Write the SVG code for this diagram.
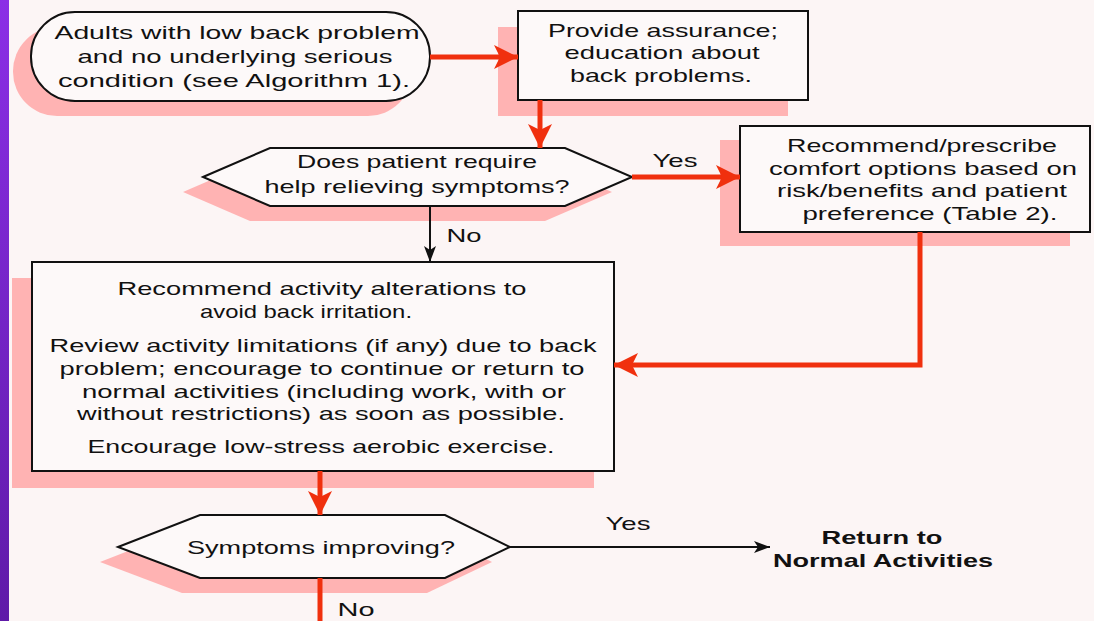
<svg xmlns="http://www.w3.org/2000/svg" width="1094" height="621" viewBox="0 0 1094 621">
<defs>
<linearGradient id="bar" x1="0" y1="0" x2="0" y2="1">
<stop offset="0" stop-color="#8b2fe6"/>
<stop offset="1" stop-color="#5f1aa8"/>
</linearGradient>
<marker id="rh" markerUnits="userSpaceOnUse" markerWidth="30" markerHeight="30" viewBox="0 0 30 30" refX="24" refY="15" orient="auto">
<path d="M0,3 L24,15 L0,27 L6,15 Z" fill="#f0300e"/>
</marker>
<marker id="bh" markerUnits="userSpaceOnUse" markerWidth="20" markerHeight="20" viewBox="0 0 20 20" refX="16" refY="10" orient="auto">
<path d="M0,4 L16,10 L0,16 L4,10 Z" fill="#111"/>
</marker>
</defs>
<style>
.t{font-family:"Liberation Sans",Arial,sans-serif;font-size:19px;fill:#111;text-anchor:middle}
.b{font-weight:bold}
.sh{fill:#ffb3b3}
.nd{fill:#fdf9f9;stroke:#111;stroke-width:2}
.red{stroke:#f0300e;stroke-width:5;fill:none}
.blk{stroke:#111;stroke-width:2;fill:none}
</style>
<rect width="1094" height="621" fill="#fcf5f5"/>
<rect x="0" y="0" width="9" height="621" fill="url(#bar)"/>

<g id="n1">
<rect class="sh" x="13" y="27" width="399" height="89" rx="44"/>
<rect class="nd" x="31" y="12" width="399" height="89" rx="44"/>
<text class="t" x="237" y="39" textLength="365" lengthAdjust="spacingAndGlyphs">Adults with low back problem</text>
<text class="t" x="235" y="63" textLength="315" lengthAdjust="spacingAndGlyphs">and no underlying serious</text>
<text class="t" x="234" y="87" textLength="352" lengthAdjust="spacingAndGlyphs">condition (see Algorithm 1).</text>
</g>

<g id="n2">
<rect class="sh" x="498" y="27" width="290" height="89"/>
<rect class="nd" x="518" y="11" width="290" height="89"/>
<text class="t" x="663" y="37" textLength="230" lengthAdjust="spacingAndGlyphs">Provide assurance;</text>
<text class="t" x="662" y="59" textLength="195" lengthAdjust="spacingAndGlyphs">education about</text>
<text class="t" x="661" y="82" textLength="182" lengthAdjust="spacingAndGlyphs">back problems.</text>
</g>

<g id="n3">
<polygon class="sh" points="183,192 250,163 545,163 612,192 545,221 250,221"/>
<polygon class="nd" points="203,177 270,148 565,148 632,177 565,206 270,206"/>
<text class="t" x="417" y="168" textLength="240" lengthAdjust="spacingAndGlyphs">Does patient require</text>
<text class="t" x="417" y="193" textLength="305" lengthAdjust="spacingAndGlyphs">help relieving symptoms?</text>
</g>

<g id="n4">
<rect class="sh" x="720" y="140" width="350" height="106"/>
<rect class="nd" x="740" y="126" width="350" height="106"/>
<text class="t" x="922" y="152" textLength="270" lengthAdjust="spacingAndGlyphs">Recommend/prescribe</text>
<text class="t" x="923" y="175" textLength="308" lengthAdjust="spacingAndGlyphs">comfort options based on</text>
<text class="t" x="922" y="197" textLength="290" lengthAdjust="spacingAndGlyphs">risk/benefits and patient</text>
<text class="t" x="930" y="220" textLength="255" lengthAdjust="spacingAndGlyphs">preference (Table 2).</text>
</g>

<g id="n5">
<rect class="sh" x="12" y="278" width="582" height="210"/>
<rect class="nd" x="32" y="262" width="582" height="209"/>
<text class="t" x="322" y="295" textLength="409" lengthAdjust="spacingAndGlyphs">Recommend activity alterations to</text>
<text class="t" x="306" y="318" textLength="212" lengthAdjust="spacingAndGlyphs">avoid back irritation.</text>
<text class="t" x="323" y="352" textLength="547" lengthAdjust="spacingAndGlyphs">Review activity limitations (if any) due to back</text>
<text class="t" x="322" y="375" textLength="525" lengthAdjust="spacingAndGlyphs">problem; encourage to continue or return to</text>
<text class="t" x="324" y="398" textLength="484" lengthAdjust="spacingAndGlyphs">normal activities (including work, with or</text>
<text class="t" x="321" y="420" textLength="488" lengthAdjust="spacingAndGlyphs">without restrictions) as soon as possible.</text>
<text class="t" x="321" y="453" textLength="467" lengthAdjust="spacingAndGlyphs">Encourage low-stress aerobic exercise.</text>
</g>

<g id="n6">
<polygon class="sh" points="100,562 182,530 427,530 492,562 427,593 182,593"/>
<polygon class="nd" points="118,547 200,515 445,515 510,547 445,578 200,578"/>
<text class="t" x="321" y="554" textLength="268" lengthAdjust="spacingAndGlyphs">Symptoms improving?</text>
</g>

<g id="n7">
<text class="t b" x="882" y="544" textLength="121" lengthAdjust="spacingAndGlyphs">Return to</text>
<text class="t b" x="883" y="567" textLength="220" lengthAdjust="spacingAndGlyphs">Normal Activities</text>
</g>

<g id="connectors">
<line class="red" x1="430" y1="57" x2="518" y2="57" marker-end="url(#rh)"/>
<line class="red" x1="540" y1="100" x2="540" y2="148" marker-end="url(#rh)"/>
<line class="red" x1="632" y1="177" x2="740" y2="177" marker-end="url(#rh)"/>
<text class="t" x="675" y="167" textLength="45" lengthAdjust="spacingAndGlyphs">Yes</text>
<polyline class="red" points="920,232 920,365 614,365" marker-end="url(#rh)"/>
<line class="blk" x1="430" y1="206" x2="430" y2="262" marker-end="url(#bh)"/>
<text class="t" x="464" y="242" textLength="35" lengthAdjust="spacingAndGlyphs">No</text>
<line class="red" x1="320" y1="471" x2="320" y2="515" marker-end="url(#rh)"/>
<line class="blk" x1="510" y1="547" x2="770" y2="547" marker-end="url(#bh)"/>
<text class="t" x="628" y="530" textLength="45" lengthAdjust="spacingAndGlyphs">Yes</text>
<line class="red" x1="320" y1="578" x2="320" y2="621"/>
<text class="t" x="356" y="616" textLength="37" lengthAdjust="spacingAndGlyphs">No</text>
</g>
</svg>
